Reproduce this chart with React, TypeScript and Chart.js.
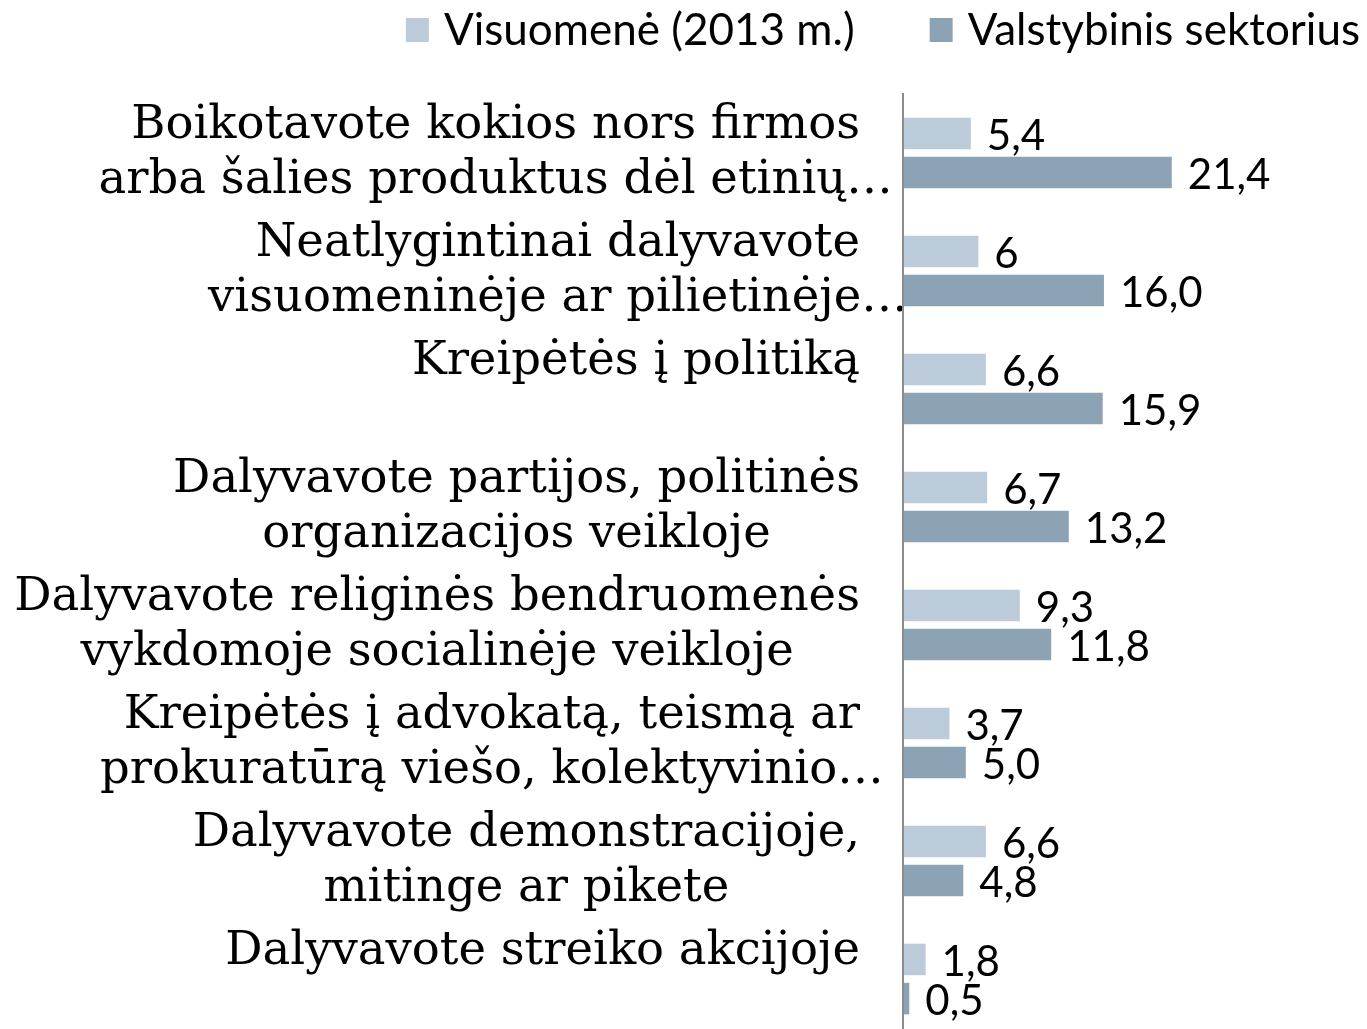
import { useEffect, useRef } from "react";
import { Chart, registerables } from "chart.js";

Chart.register(...registerables);

const categories: string[][] = [
  ["Boikotavote kokios nors firmos", "arba šalies produktus dėl etinių…"],
  ["Neatlygintinai dalyvavote", "visuomeninėje ar pilietinėje…"],
  ["Kreipėtės į politiką"],
  ["Dalyvavote partijos, politinės", "organizacijos veikloje"],
  ["Dalyvavote religinės bendruomenės", "vykdomoje socialinėje veikloje"],
  ["Kreipėtės į advokatą, teismą ar", "prokuratūrą viešo, kolektyvinio…"],
  ["Dalyvavote demonstracijoje,", "mitinge ar pikete"],
  ["Dalyvavote streiko akcijoje"],
];

const seriesNames = ["Visuomenė (2013 m.)", "Valstybinis sektorius"];
const publicValues = [5.4, 6, 6.6, 6.7, 9.3, 3.7, 6.6, 1.8];
const stateValues = [21.4, 16.0, 15.9, 13.2, 11.8, 5.0, 4.8, 0.5];
const seriesColors = ["#bccbda", "#8ca2b5"];
const xMax = 25;

const LABEL_FONT = '46.5px "DejaVu Serif"';
const VALUE_FONT = "42px Lato";
const LEGEND_FONT = "44px Lato";

function fmt(v: number, di: number): string {
  return di === 0 ? String(v).replace(".", ",") : v.toFixed(1).replace(".", ",");
}

const drawPlugin = {
  id: "customDraw",
  afterDatasetsDraw(chart: any) {
    const ctx = chart.ctx as CanvasRenderingContext2D;
    const area = chart.chartArea;
    const yScale = chart.scales.y;
    ctx.save();

    // category labels
    ctx.font = LABEL_FONT;
    ctx.fillStyle = "#000";
    ctx.textAlign = "center";
    ctx.textBaseline = "alphabetic";
    const right = area.left - 43;
    categories.forEach((lines, i) => {
      const cy = yScale.getPixelForValue(i);
      const full = lines.filter((l) => !l.endsWith("…"));
      const ref = full.length ? full : lines;
      const w = Math.max(...ref.map((l) => ctx.measureText(l).width));
      const cx = right - w / 2;
      lines.forEach((l, j) => ctx.fillText(l, cx, cy - 15 + 55 * j));
    });

    // value labels
    ctx.font = VALUE_FONT;
    ctx.textAlign = "left";
    chart.data.datasets.forEach((ds: any, di: number) => {
      const meta = chart.getDatasetMeta(di);
      meta.data.forEach((bar: any, i: number) => {
        ctx.fillText(fmt(ds.data[i], di), bar.x + 16, bar.y + 16.5);
      });
    });

    // legend
    ctx.font = LEGEND_FONT;
    ctx.textAlign = "left";
    let x = chart.width - 7;
    for (let k = chart.data.datasets.length - 1; k >= 0; k--) {
      const ds = chart.data.datasets[k];
      const w = ctx.measureText(ds.label).width;
      const tx = x - w;
      ctx.fillStyle = "#000";
      ctx.fillText(ds.label, tx, 45);
      ctx.fillStyle = ds.backgroundColor;
      ctx.fillRect(tx - 15 - 23, 18, 23, 24);
      x = tx - 15 - 23 - 75;
    }
    ctx.restore();
  },
};

export default function App() {
  const canvasRef = useRef<HTMLCanvasElement | null>(null);

  useEffect(() => {
    if (!canvasRef.current) return;
    const chart = new Chart(canvasRef.current, {
      type: "bar",
      data: {
        labels: categories.map((c) => c.join(" ")),
        datasets: [
          {
            label: seriesNames[0],
            data: publicValues,
            backgroundColor: seriesColors[0],
            categoryPercentage: 0.663,
            barPercentage: 0.806,
          },
          {
            label: seriesNames[1],
            data: stateValues,
            backgroundColor: seriesColors[1],
            categoryPercentage: 0.663,
            barPercentage: 0.806,
          },
        ],
      },
      options: {
        indexAxis: "y",
        animation: false,
        responsive: true,
        maintainAspectRatio: false,
        layout: { padding: { left: 903, right: 150, top: 94, bottom: 2 } },
        plugins: {
          legend: { display: false },
          tooltip: { enabled: false },
        },
        scales: {
          x: { display: false, min: 0, max: xMax },
          y: {
            display: true,
            ticks: { display: false },
            grid: { display: false, drawTicks: false },
            border: { display: true, color: "#8c8c8c", width: 2, z: 1 },
            afterFit: (s: any) => {
              s.width = 0;
            },
          },
        },
      },
      plugins: [drawPlugin],
    } as any);
    return () => chart.destroy();
  }, []);

  return (
    <div
      style={{
        position: "fixed",
        left: 0,
        top: 0,
        width: 1367,
        height: 1040,
        background: "#fff",
      }}
    >
      <canvas ref={canvasRef} />
    </div>
  );
}
